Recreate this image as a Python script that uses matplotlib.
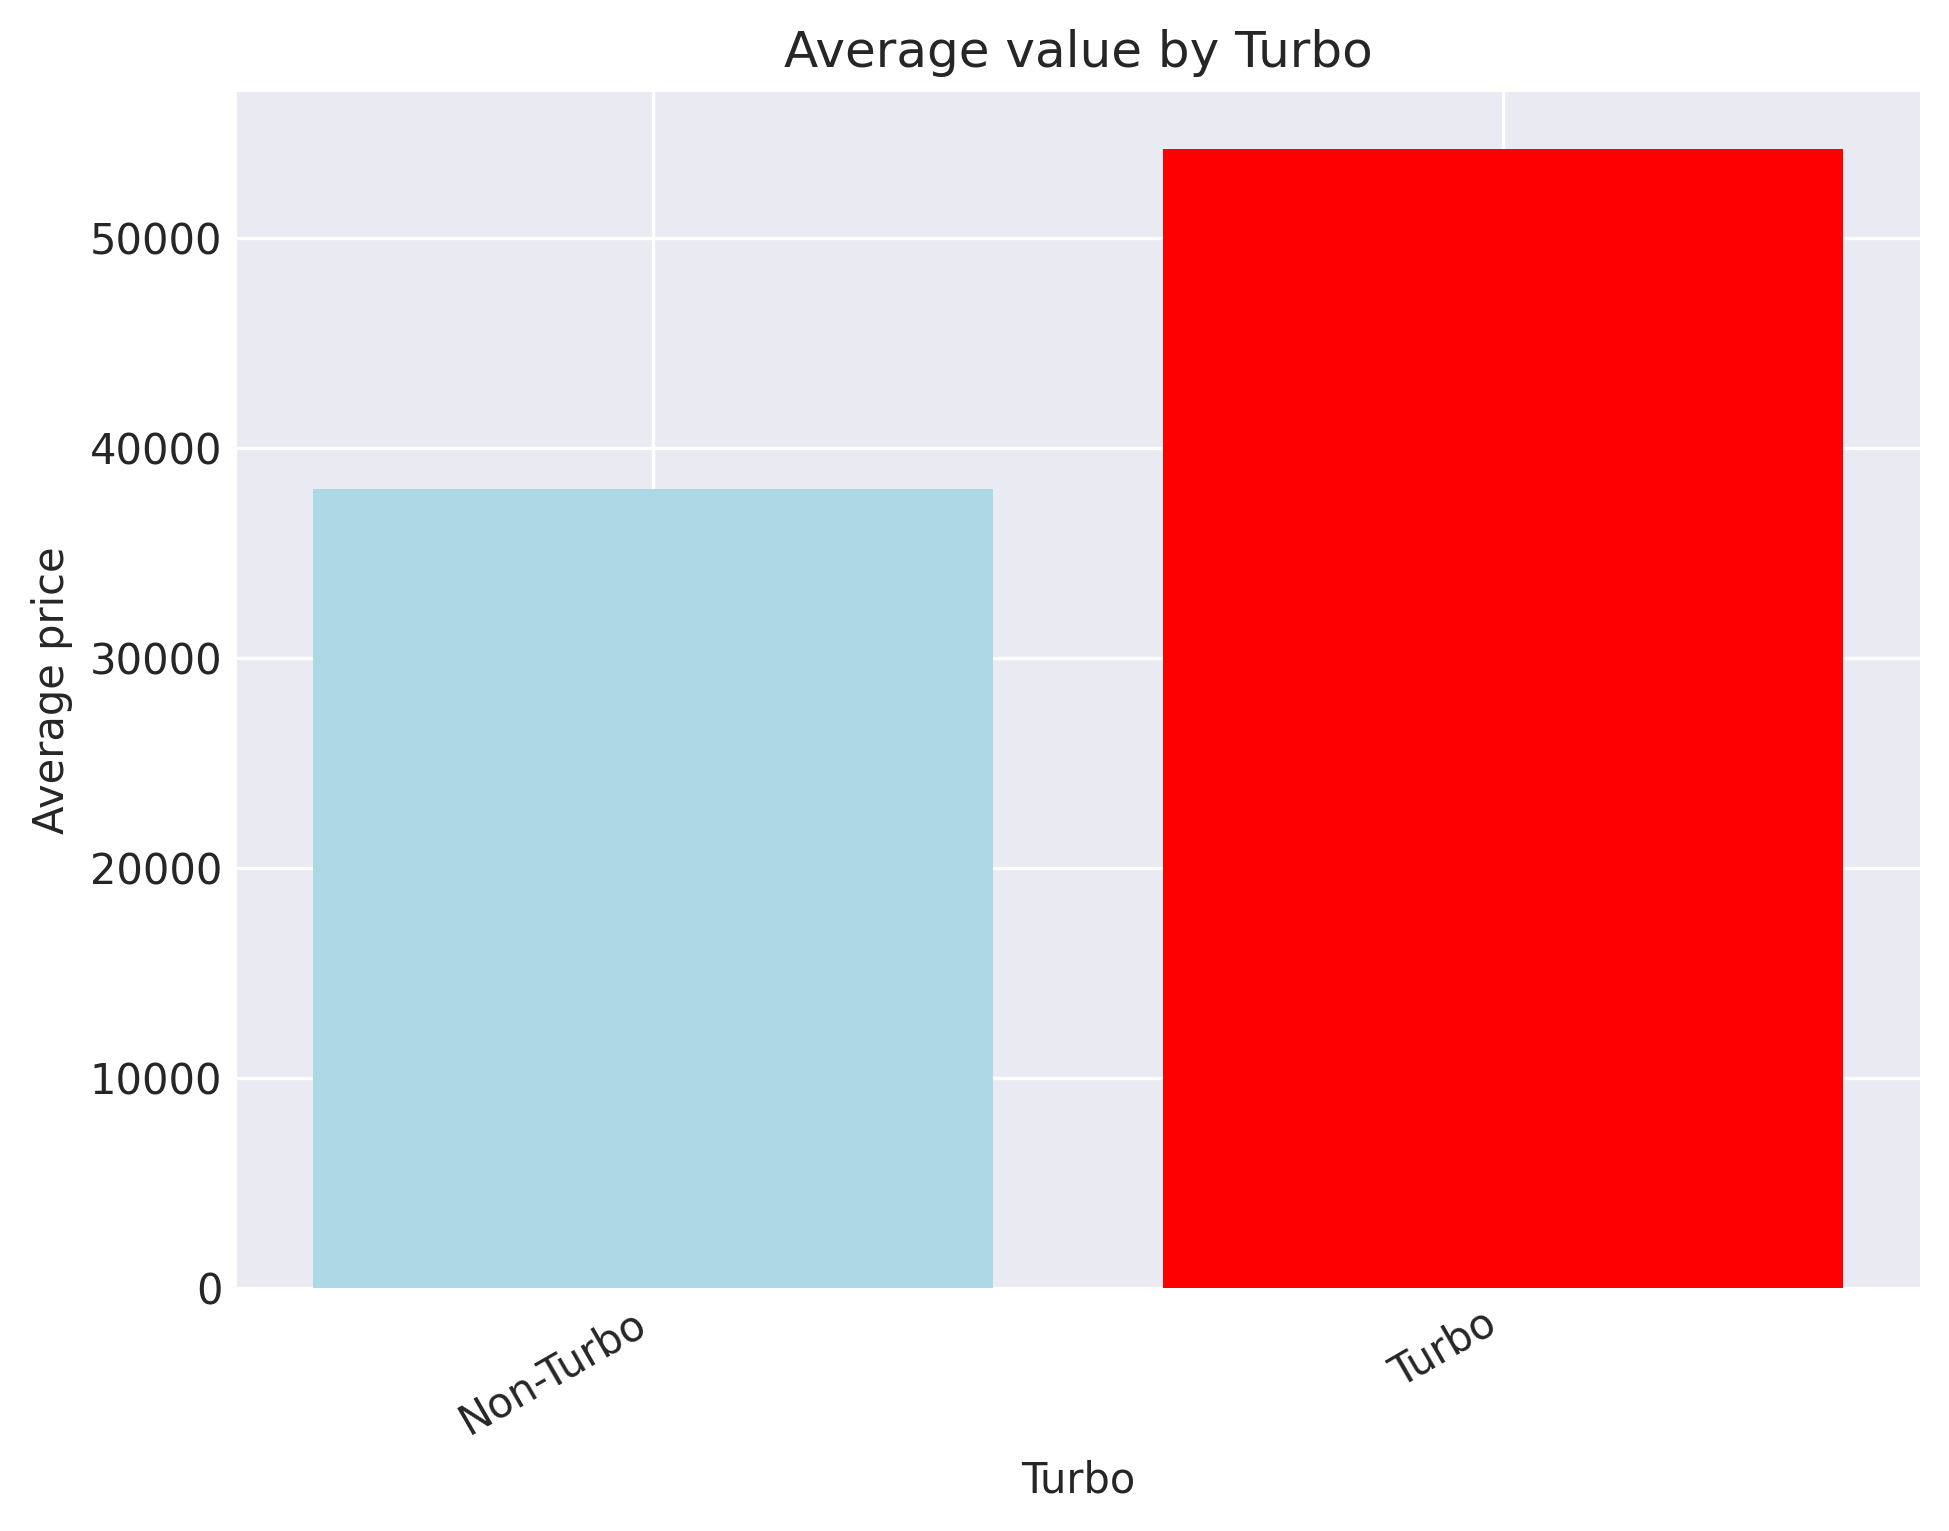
import matplotlib
matplotlib.use("Agg")
import matplotlib.pyplot as plt

# average price per turbo group
categories = ["Non-Turbo", "Turbo"]
avg_price = [38080, 54270]
bar_colors = ["lightblue", "red"]

plt.style.use("seaborn-v0_8-darkgrid")
plt.rcParams["font.family"] = ["DejaVu Sans"]

fig, ax = plt.subplots(figsize=(1949 / 300, 1531 / 300), dpi=300)
fig.subplots_adjust(left=0.1216, right=0.985, top=0.940, bottom=0.159)

ax.bar(categories, avg_price, color=bar_colors)
ax.set_title("Average value by Turbo")
ax.set_xlabel("Turbo")
ax.set_ylabel("Average price")
plt.setp(ax.get_xticklabels(), rotation=30, ha="right")

fig.savefig("out.png", dpi=300)
